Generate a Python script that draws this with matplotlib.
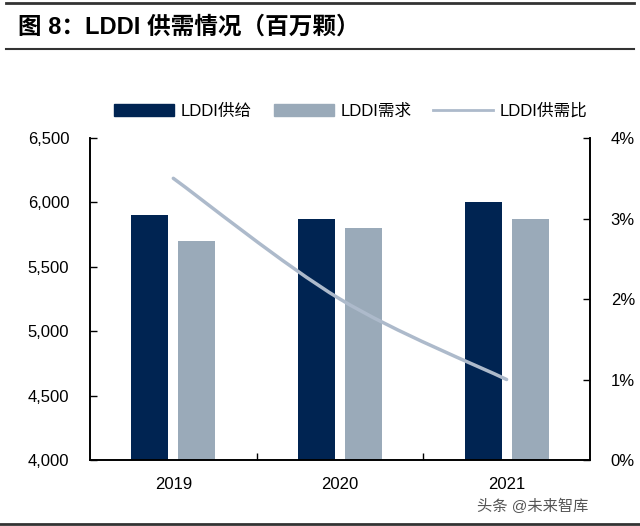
import numpy as np
import matplotlib.pyplot as plt
from matplotlib.path import Path
from matplotlib.patches import PathPatch, Patch
from matplotlib.lines import Line2D
from matplotlib.ticker import FuncFormatter

plt.rcParams['font.family'] = ['Liberation Sans', 'Noto Sans CJK SC', 'DejaVu Sans']

years = ['2019', '2020', '2021']
supply = [5900, 5870, 6000]
demand = [5700, 5800, 5870]
ratio = [0.035, 0.020, 0.010]

dark = '#002452'
light = '#9AAAB9'
line_c = '#ADBACB'


def smooth_path(xs, ys, t=1/6):
    """Catmull-Rom style bezier through the points (like Excel smoothed line)."""
    xs = np.asarray(xs, float)
    ys = np.asarray(ys, float)
    n = len(xs)
    verts = [(xs[0], ys[0])]
    codes = [Path.MOVETO]
    for i in range(n - 1):
        p0 = max(i - 1, 0)
        p3 = min(i + 2, n - 1)
        c1 = (xs[i] + (xs[i + 1] - xs[p0]) * t, ys[i] + (ys[i + 1] - ys[p0]) * t)
        c2 = (xs[i + 1] - (xs[p3] - xs[i]) * t, ys[i + 1] - (ys[p3] - ys[i]) * t)
        verts += [c1, c2, (xs[i + 1], ys[i + 1])]
        codes += [Path.CURVE4] * 3
    return Path(verts, codes)


fig = plt.figure(figsize=(6.4, 5.26), dpi=100)
ax = fig.add_axes([0.1406, 0.1255, 0.7812, 0.612])
ax2 = ax.twinx()

x = np.arange(len(years))
w = 0.222
ax.bar(x - 0.141, supply, w, color=dark, zorder=2)
ax.bar(x + 0.141, demand, w, color=light, zorder=2)
ax.set_xlim(-0.5, 2.5)
ax.set_ylim(4000, 6500)
ax.set_yticks(np.arange(4000, 6501, 500))
ax.yaxis.set_major_formatter(FuncFormatter(lambda v, p: f'{int(v):,}'))
ax.set_xticks(x)
ax.set_xticklabels(years)
ax.set_xticks([0.5, 1.5], minor=True)
ax.tick_params(axis='x', which='major', length=0, labelsize=12, pad=12)
ax.tick_params(axis='x', which='minor', direction='in', length=5, width=1)
ax.tick_params(axis='y', direction='in', length=5, width=1, labelsize=12, pad=15)

ax2.set_ylim(0, 0.04)
ax2.set_yticks([0, 0.01, 0.02, 0.03, 0.04])
ax2.yaxis.set_major_formatter(FuncFormatter(lambda v, p: f'{v*100:.0f}%'))
ax2.tick_params(axis='y', direction='in', length=5, width=1, labelsize=12, pad=15)

ax2.add_patch(PathPatch(smooth_path(x, ratio), fill=False, edgecolor=line_c,
                        lw=2.5, capstyle='round', zorder=3))

for a in (ax, ax2):
    a.spines['top'].set_visible(False)
    for s in ('left', 'right', 'bottom'):
        a.spines[s].set_linewidth(1.2)
        a.spines[s].set_color('black')

handles = [Patch(color=dark), Patch(color=light), Line2D([], [], color=line_c, lw=2)]
labels = ['LDDI供给', 'LDDI需求', 'LDDI供需比']
fig.legend(handles, labels, loc='center', bbox_to_anchor=(0.548, 0.789), ncol=3,
           frameon=False, fontsize=12, handlelength=3.6, handleheight=0.7,
           columnspacing=1.3, handletextpad=0.4)

# title and frame lines
fig.text(0.028, 0.949, '图 8：LDDI 供需情况（百万颗）', fontsize=17, fontweight='bold',
         va='center', ha='left')
fig.add_artist(Line2D([0.01, 0.99], [0.994, 0.994], color='#333333', lw=2))
fig.add_artist(Line2D([0.01, 0.99], [0.906, 0.906], color='#333333', lw=1.5))
fig.add_artist(Line2D([0.0, 1.0], [0.003, 0.003], color='#333333', lw=2))
fig.text(0.92, 0.038, '头条 @未来智库', fontsize=11, color='#555555', ha='right', va='center')

fig.savefig('out.png', dpi=100)
